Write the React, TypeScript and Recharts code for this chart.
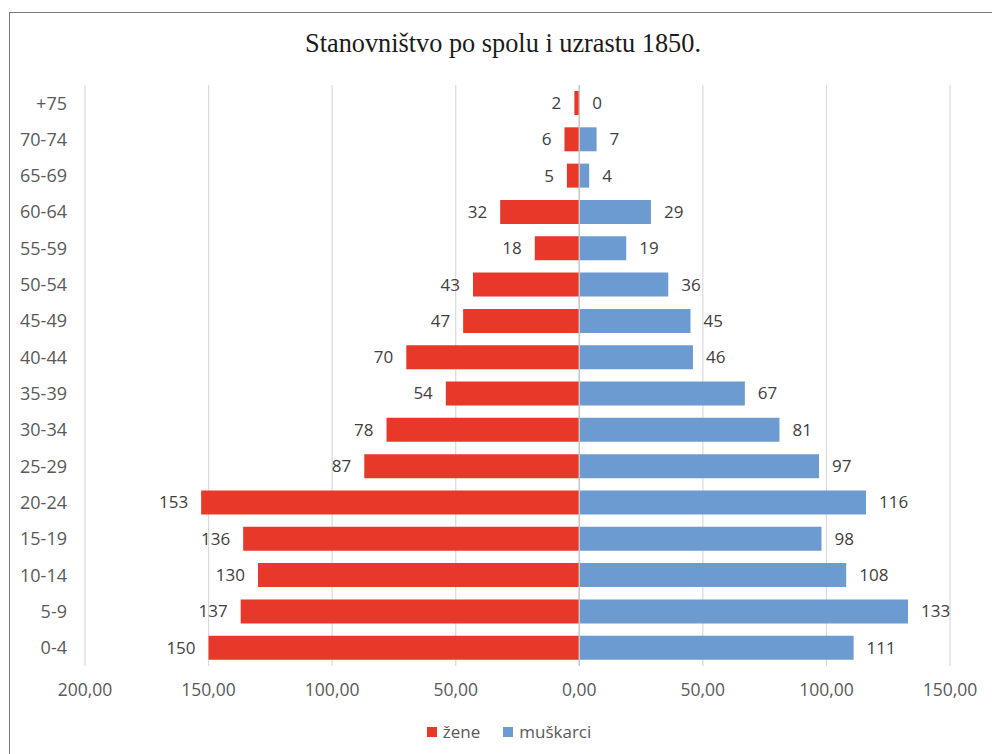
import React from 'react';
import {
  BarChart, Bar, XAxis, YAxis, CartesianGrid, Legend, LabelList, ReferenceLine,
} from 'recharts';

const ageGroups = ['+75', '70-74', '65-69', '60-64', '55-59', '50-54', '45-49', '40-44', '35-39', '30-34', '25-29', '20-24', '15-19', '10-14', '5-9', '0-4'];
const women = [2, 6, 5, 32, 18, 43, 47, 70, 54, 78, 87, 153, 136, 130, 137, 150];
const men = [0, 7, 4, 29, 19, 36, 45, 46, 67, 81, 97, 116, 98, 108, 133, 111];
const xTicks = [-200, -150, -100, -50, 0, 50, 100, 150];

const data = ageGroups.map((age, i) => ({ age, zene: -women[i], muskarci: men[i] }));

const fmtTick = (v: number) => Math.abs(v).toFixed(2).replace('.', ',');

const FONT = '"Open Sans", "Liberation Sans", sans-serif';
const LABEL_SIZE = 17;

const labelText = (x: number, y: number, anchor: 'start' | 'end', v: number, key?: string) => (
  <text
    key={key}
    x={x}
    y={y}
    dy="0.35em"
    textAnchor={anchor}
    fill="#404040"
    fontSize={LABEL_SIZE}
    fontFamily={FONT}
  >
    {Math.abs(v)}
  </text>
);

const womenLabel = (props: any) => {
  const { x, y, width, height, value, index } = props;
  const x0 = Number(x);
  const w = Number(width);
  const left = Math.min(x0, x0 + w);
  const right = Math.max(x0, x0 + w);
  const cy = Number(y) + Number(height) / 2;
  const out = [labelText(left - 13, cy, 'end', Number(value), 'w')];
  // men's bar of value 0 has no rect, so its label is drawn here at the zero line
  if (typeof index === 'number' && men[index] === 0) {
    out.push(labelText(right + 13, cy, 'start', men[index], 'm'));
  }
  return <g>{out}</g>;
};

const menLabel = (props: any) => {
  const { x, y, width, height, value } = props;
  const x0 = Number(x);
  const w = Number(width);
  const right = Math.max(x0, x0 + w);
  return labelText(right + 13, Number(y) + Number(height) / 2, 'start', Number(value));
};

const legendOrder: Record<string, number> = { zene: 0, muskarci: 1 };

const renderLegend = (props: any) => {
  const payload = [...(props.payload || [])].sort(
    (a: any, b: any) => (legendOrder[String(a.dataKey)] ?? 0) - (legendOrder[String(b.dataKey)] ?? 0),
  );
  return (
    <div style={{ display: 'flex', justifyContent: 'center', alignItems: 'center', gap: 23, fontFamily: FONT, fontSize: 17, color: '#595959', lineHeight: '24px' }}>
      {payload.map((p: any) => (
        <div key={String(p.dataKey)} style={{ display: 'flex', alignItems: 'center', gap: 6 }}>
          <span style={{ display: 'inline-block', width: 10, height: 10, background: p.color }} />
          <span>{p.value}</span>
        </div>
      ))}
    </div>
  );
};

export default function App() {
  return (
    <div style={{ position: 'absolute', left: 0, top: 0, width: 992, height: 754, background: '#fff', overflow: 'hidden' }}>
      <div style={{ position: 'absolute', left: 9, top: 12, width: 1000, height: 800, borderLeft: '1.5px solid #7a7a7a', borderTop: '1.5px solid #7a7a7a' }} />
      <div style={{ position: 'absolute', left: 8, width: 990, top: 28, lineHeight: '32px', textAlign: 'center', fontFamily: '"Liberation Serif", "Times New Roman", serif', fontSize: 26.3, color: '#1a1a1a' }}>
        Stanovništvo po spolu i uzrastu 1850.
      </div>
      <div style={{ position: 'absolute', left: 0, top: 0 }}>
        <BarChart
          width={992}
          height={754}
          data={data}
          layout="vertical"
          stackOffset="sign"
          margin={{ top: 85, right: 42, left: 25, bottom: 8 }}
        >
          <CartesianGrid horizontal={false} vertical stroke="#d9d9d9" strokeWidth={1.2} />
          <XAxis
            type="number"
            domain={[-200, 150]}
            ticks={xTicks}
            tickFormatter={fmtTick}
            axisLine={false}
            tickLine={false}
            tickMargin={12}
            height={56}
            tick={{ fill: '#595959', fontSize: 17.5, fontFamily: FONT }}
          />
          <YAxis
            type="category"
            dataKey="age"
            width={60}
            axisLine={false}
            tickLine={false}
            tickMargin={12}
            tick={{ fill: '#595959', fontSize: 18, fontFamily: FONT }}
          />
          <ReferenceLine x={0} stroke="#c8c8c8" strokeWidth={1.5} />
          <Bar dataKey="zene" name="žene" stackId="a" fill="#e8382a" barSize={24} isAnimationActive={false}>
            <LabelList dataKey="zene" content={womenLabel} />
          </Bar>
          <Bar dataKey="muskarci" name="muškarci" stackId="a" fill="#6b9bd1" barSize={24} isAnimationActive={false}>
            <LabelList dataKey="muskarci" content={menLabel} />
          </Bar>
          <Legend
            verticalAlign="bottom"
            content={renderLegend}
            wrapperStyle={{ left: 431, width: 156, marginBottom: 2 }}
          />
        </BarChart>
      </div>
    </div>
  );
}
